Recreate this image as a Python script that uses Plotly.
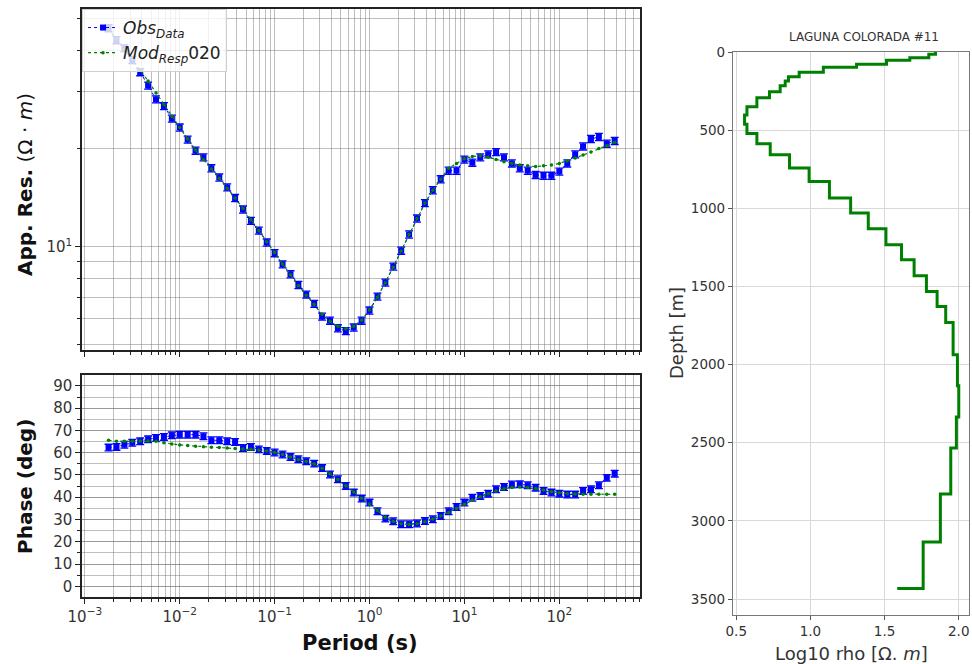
import plotly.graph_objects as go

# ---------------- data ----------------
periods = [0.001778, 0.002154, 0.002610, 0.003162, 0.003831, 0.004642, 0.005623, 0.006813, 0.008254,
           0.01, 0.01212, 0.01468, 0.01778, 0.02154, 0.02610, 0.03162, 0.03831, 0.04642, 0.05623,
           0.06813, 0.08254, 0.1, 0.1212, 0.1468, 0.1778, 0.2154, 0.2610, 0.3162, 0.3831, 0.4642,
           0.5623, 0.6813, 0.8254, 1.0, 1.212, 1.468, 1.778, 2.154, 2.610, 3.162, 3.831, 4.642,
           5.623, 6.813, 8.254, 10.0, 12.12, 14.68, 17.78, 21.54, 26.10, 31.62, 38.31, 46.42,
           56.23, 68.13, 82.54, 100.0, 121.2, 146.8, 177.8, 215.4, 261.0, 316.2, 383.1]

obs_rho = [46.8, 43.0, 40.6, 37.4, 34.3, 31.2, 28.3, 27.0, 24.7, 23.2, 21.3, 19.7, 18.8, 17.4,
           16.3, 15.2, 14.1, 13.0, 12.0, 11.2, 10.3, 9.55, 8.83, 8.23, 7.63, 7.13, 6.68, 6.10,
           5.93, 5.62, 5.51, 5.65, 5.93, 6.37, 7.03, 7.76, 8.69, 9.72, 10.9, 12.2, 13.6, 14.9,
           16.1, 17.1, 17.1, 18.5, 18.1, 18.8, 19.2, 19.5, 18.8, 18.0, 17.4, 17.1, 16.6, 16.5,
           16.5, 17.0, 18.0, 19.2, 20.3, 21.4, 21.7, 20.7, 21.1]

mod_rho = [46.5, 43.3, 40.3, 37.5, 34.8, 32.2, 29.6, 27.3, 25.1, 23.2, 21.4, 19.8, 18.5, 17.3,
           16.2, 15.1, 14.1, 13.1, 12.1, 11.2, 10.35, 9.6, 8.85, 8.2, 7.6, 7.1, 6.65, 6.2,
           5.9, 5.7, 5.6, 5.7, 5.95, 6.4, 7.0, 7.75, 8.65, 9.7, 10.9, 12.2, 13.6, 14.9,
           16.1, 17.4, 18.0, 18.6, 18.9, 19.0, 18.8, 18.5, 18.2, 18.0, 17.8, 17.7, 17.6, 17.7,
           17.8, 18.0, 18.3, 18.7, 19.1, 19.5, 20.0, 20.4, 20.9]

obs_phase = [62.3, 62.6, 63.6, 64.5, 65.1, 66.0, 66.6, 67.1, 67.8, 68.1, 68.1, 68.1, 67.4, 65.6,
             65.6, 65.1, 64.8, 62.1, 62.6, 61.5, 60.8, 60.1, 59.2, 58.1, 57.1, 56.2, 55.1, 53.1,
             50.2, 48.1, 45.1, 42.1, 39.4, 37.6, 33.7, 30.4, 29.2, 27.9, 27.9, 28.2, 29.3, 30.1,
             31.6, 33.7, 35.6, 37.6, 39.8, 40.6, 41.6, 43.6, 44.6, 45.7, 45.8, 45.4, 44.3, 42.8,
             42.1, 41.6, 41.2, 41.2, 42.8, 43.6, 45.4, 48.7, 50.6]

mod_phase = [65.6, 65.1, 65.1, 65.1, 65.3, 65.3, 65.1, 64.5, 63.9, 63.5, 63.2, 62.9, 62.7, 62.4,
             62.3, 62.1, 61.9, 61.7, 61.5, 61.2, 60.8, 60.1, 59.2, 58.1, 57.0, 56.0, 54.9, 53.0,
             50.5, 48.0, 45.2, 42.3, 39.6, 37.0, 34.0, 31.0, 29.2, 28.1, 27.8, 28.1, 29.0, 30.2,
             31.6, 33.2, 35.0, 36.8, 38.6, 40.2, 41.6, 42.8, 43.8, 44.4, 44.6, 44.4, 43.9, 43.2,
             42.5, 42.0, 41.6, 41.5, 41.4, 41.4, 41.3, 41.3, 41.3]

layer_top_depth = [0, 14, 36, 52, 78, 98, 130, 158, 186, 216, 254, 292, 350, 403, 463, 521, 587,
                   657, 742, 828, 934, 1030, 1131, 1233, 1329, 1431, 1532, 1628, 1730, 1937,
                   2135, 2335, 2534, 2828, 3135, 3432]
layer_log_rho = [1.843, 1.798, 1.670, 1.513, 1.311, 1.087, 0.924, 0.852, 0.830, 0.796, 0.724,
                 0.639, 0.572, 0.556, 0.572, 0.639, 0.729, 0.859, 0.991, 1.128, 1.271, 1.390,
                 1.509, 1.614, 1.699, 1.782, 1.854, 1.912, 1.962, 1.991, 2.000, 1.984, 1.946,
                 1.876, 1.760, 1.585]

x_tick_vals = [0.001, 0.01, 0.1, 1, 10, 100]
x_tick_text = ["10<sup>\u22123</sup>", "10<sup>\u22122</sup>", "10<sup>\u22121</sup>",
               "10<sup>0</sup>", "10<sup>1</sup>", "10<sup>2</sup>"]
rho_tick_vals = [10]
rho_tick_text = ["10<sup>1</sup>"]
rho_minor_vals = [5, 6, 7, 8, 9, 20, 30, 40, 50]
phase_tick_vals = [0, 10, 20, 30, 40, 50, 60, 70, 80, 90]
depth_tick_vals = [0, 500, 1000, 1500, 2000, 2500, 3000, 3500]
logrho_tick_vals = [0.5, 1.0, 1.5, 2.0]
logrho_tick_text = ["0.5", "1.0", "1.5", "2.0"]

# ---------------- figure ----------------
W, H = 972, 664
FONT = "DejaVu Sans"
BLUE = "#0000ff"
GREEN = "#008000"
GRID = "rgba(110,110,110,0.45)"

x_minor = [m * d for d in [0.001, 0.01, 0.1, 1, 10, 100] for m in range(2, 10)]

fig = go.Figure()

fig.add_trace(go.Scatter(
    x=periods, y=obs_rho, xaxis="x", yaxis="y", mode="lines+markers",
    name="<i>Obs</i><sub><i>Data</i></sub>",
    line=dict(color=BLUE, width=1, dash="dot"),
    marker=dict(symbol="square", size=6, color=BLUE),
    error_y=dict(type="percent", value=2.5, color=BLUE, thickness=1.3, width=4),
))
fig.add_trace(go.Scatter(
    x=periods, y=mod_rho, xaxis="x", yaxis="y", mode="lines+markers",
    name="<i>Mod</i><sub><i>Resp</i></sub>020",
    line=dict(color=GREEN, width=1.2, dash="dot"),
    marker=dict(symbol="circle", size=3.5, color=GREEN),
))
fig.add_trace(go.Scatter(
    x=periods, y=obs_phase, xaxis="x2", yaxis="y2", mode="lines+markers", showlegend=False,
    line=dict(color=BLUE, width=1, dash="dot"),
    marker=dict(symbol="square", size=6, color=BLUE),
    error_y=dict(type="constant", value=1.5, color=BLUE, thickness=1.3, width=4),
))
fig.add_trace(go.Scatter(
    x=periods, y=mod_phase, xaxis="x2", yaxis="y2", mode="lines+markers", showlegend=False,
    line=dict(color=GREEN, width=1.2, dash="dot"),
    marker=dict(symbol="circle", size=3.5, color=GREEN),
))
fig.add_trace(go.Scatter(
    x=layer_log_rho, y=layer_top_depth, xaxis="x3", yaxis="y3", mode="lines", showlegend=False,
    line=dict(color=GREEN, width=3, shape="vh"),
))

def px_x(a, b):
    return [a / W, b / W]

def px_y(top, bottom):
    return [1 - bottom / H, 1 - top / H]

axis_common = dict(showline=True, mirror=True, linecolor="#222", linewidth=1.5,
                   ticks="outside", ticklen=5, tickwidth=1, tickcolor="#222",
                   showgrid=True, gridcolor=GRID, gridwidth=1, zeroline=False, automargin=False,
                   tickfont=dict(family=FONT, size=15, color="#333"))

xr = [-3.03, 2.85]

fig.update_layout(
    width=W, height=H, margin=dict(l=0, r=0, t=0, b=0, autoexpand=False),
    paper_bgcolor="white", plot_bgcolor="white",
    font=dict(family=FONT, color="#222"),
    showlegend=True,
    legend=dict(x=82 / W, y=1 - 9 / H, xanchor="left", yanchor="top",
                bgcolor="rgba(255,255,255,0.8)", bordercolor="#d0d0d0", borderwidth=1,
                font=dict(family=FONT, size=17, color="#222"), tracegroupgap=0,
                itemwidth=30),
    xaxis=dict(axis_common, domain=px_x(82, 640), type="log", range=xr, anchor="y",
               tickvals=x_tick_vals, ticktext=x_tick_text, showticklabels=False,
               minor=dict(tickvals=x_minor, ticks="outside", ticklen=3, tickcolor="#222",
                          showgrid=True, gridcolor=GRID, gridwidth=1)),
    yaxis=dict(axis_common, domain=px_y(9, 350), type="log", range=[0.683, 1.729], anchor="x",
               tickvals=rho_tick_vals, ticktext=rho_tick_text,
               minor=dict(tickvals=rho_minor_vals, ticks="outside", ticklen=3, tickcolor="#222",
                          showgrid=True, gridcolor=GRID, gridwidth=1)),
    xaxis2=dict(axis_common, domain=px_x(82, 640), type="log", range=xr, anchor="y2",
                tickvals=x_tick_vals, ticktext=x_tick_text,
                minor=dict(tickvals=x_minor, ticks="outside", ticklen=3, tickcolor="#222",
                           showgrid=True, gridcolor=GRID, gridwidth=1)),
    yaxis2=dict(axis_common, domain=px_y(375, 597), range=[-4.8, 94.9], anchor="x2",
                tickvals=phase_tick_vals,
                minor=dict(dtick=5, tick0=0, ticks="outside", ticklen=3, tickcolor="#222",
                           showgrid=True, gridcolor=GRID, gridwidth=1)),
    xaxis3=dict(domain=px_x(733, 969), range=[0.478, 2.069], anchor="y3",
                showline=True, mirror=True, linecolor="#777", linewidth=1.2,
                ticks="outside", ticklen=4, tickcolor="#555", automargin=False,
                tickvals=logrho_tick_vals, ticktext=logrho_tick_text,
                showgrid=True, gridcolor="#d9d9d9", gridwidth=1, zeroline=False,
                tickfont=dict(family=FONT, size=13.5, color="#333")),
    yaxis3=dict(domain=px_y(52, 615), range=[3602, 0], anchor="x3",
                showline=True, mirror=True, linecolor="#777", linewidth=1.2,
                ticks="outside", ticklen=4, tickcolor="#555", automargin=False,
                tickvals=depth_tick_vals,
                showgrid=True, gridcolor="#d9d9d9", gridwidth=1, zeroline=False,
                tickfont=dict(family=FONT, size=13.5, color="#333")),
)

def ann(text, x, y, size, angle=0, color="#111"):
    fig.add_annotation(text=text, x=x / W, y=1 - y / H, xref="paper", yref="paper",
                       showarrow=False, textangle=angle, xanchor="center", yanchor="middle",
                       font=dict(family=FONT, size=size, color=color))

ann("<b>App. Res.</b> (\u03a9 \u00b7 <i>m</i>)", 25, 185, 20, angle=-90)
ann("<b>Phase (deg)</b>", 25, 487, 20, angle=-90)
ann("<b>Period (s)</b>", 360, 643, 21)
ann("Depth [m]", 676, 333, 18, angle=-90, color="#333")
ann("Log10 rho [\u03a9. <i>m</i>]", 851, 653, 18, color="#333")
ann("LAGUNA COLORADA #11", 864, 37, 12, color="#333")

fig.write_html("out.html")
